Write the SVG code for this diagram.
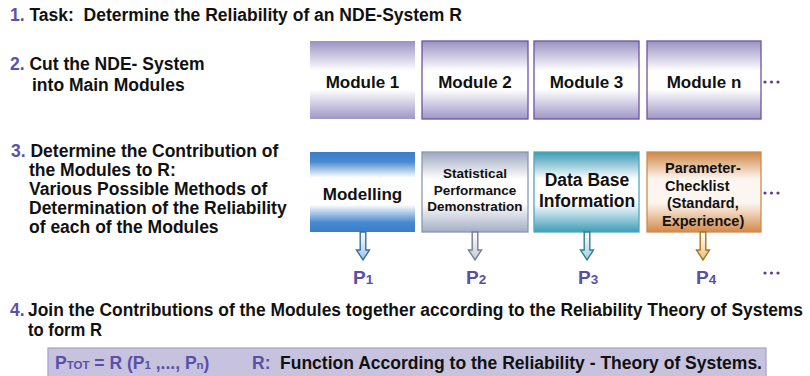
<svg xmlns="http://www.w3.org/2000/svg" width="810" height="376" viewBox="0 0 810 376">
  <style>
    text { font-family: "Liberation Sans", Arial, sans-serif; font-weight: bold; fill: #111; }
    .num { fill: #5a52a6; }
    .step { font-size: 17.5px; }
    .mod { font-size: 17px; text-anchor: middle; }
    .small { font-size: 13.5px; text-anchor: middle; }
    .param { font-size: 14.5px; }
    .plab { font-size: 19px; fill: #5a50a8; }
    .psub { font-size: 13.5px; fill: #5a50a8; }
    .dot { fill: #5b3d92; }
    .blue { fill: #5a50a8; }
    .sub { font-size: 11.5px; }
  </style>
  <defs>
    <linearGradient id="gPurple" x1="0" y1="0" x2="0" y2="1">
      <stop offset="0" stop-color="#9a92c2"/>
      <stop offset="0.38" stop-color="#ffffff"/>
      <stop offset="0.62" stop-color="#ffffff"/>
      <stop offset="1" stop-color="#9f97c6"/>
    </linearGradient>
    <linearGradient id="gBlue" x1="0" y1="0" x2="0" y2="1">
      <stop offset="0" stop-color="#3a7dc7"/>
      <stop offset="0.12" stop-color="#4889cf"/>
      <stop offset="0.32" stop-color="#ffffff"/>
      <stop offset="0.66" stop-color="#ffffff"/>
      <stop offset="0.88" stop-color="#4889cf"/>
      <stop offset="1" stop-color="#3a7dc7"/>
    </linearGradient>
    <linearGradient id="gGray" x1="0" y1="0" x2="0" y2="1">
      <stop offset="0" stop-color="#9ea8c0"/>
      <stop offset="0.34" stop-color="#ffffff"/>
      <stop offset="0.64" stop-color="#ffffff"/>
      <stop offset="1" stop-color="#a3adc4"/>
    </linearGradient>
    <linearGradient id="gTeal" x1="0" y1="0" x2="0" y2="1">
      <stop offset="0" stop-color="#3a9ab6"/>
      <stop offset="0.34" stop-color="#ffffff"/>
      <stop offset="0.64" stop-color="#ffffff"/>
      <stop offset="1" stop-color="#3d9db8"/>
    </linearGradient>
    <linearGradient id="gOrange" x1="0" y1="0" x2="0" y2="1">
      <stop offset="0" stop-color="#d08747"/>
      <stop offset="0.34" stop-color="#fdf6f0"/>
      <stop offset="0.64" stop-color="#fdf6f0"/>
      <stop offset="1" stop-color="#d28a4a"/>
    </linearGradient>
    <linearGradient id="aBlue" x1="0" y1="0" x2="0" y2="1">
      <stop offset="0" stop-color="#ffffff"/>
      <stop offset="1" stop-color="#9cc3e6"/>
    </linearGradient>
    <linearGradient id="aGray" x1="0" y1="0" x2="0" y2="1">
      <stop offset="0" stop-color="#ffffff"/>
      <stop offset="1" stop-color="#c4cad6"/>
    </linearGradient>
    <linearGradient id="aTeal" x1="0" y1="0" x2="0" y2="1">
      <stop offset="0" stop-color="#ffffff"/>
      <stop offset="1" stop-color="#9fd0dc"/>
    </linearGradient>
    <linearGradient id="aOrange" x1="0" y1="0" x2="0" y2="1">
      <stop offset="0" stop-color="#ffffff"/>
      <stop offset="1" stop-color="#e8c27c"/>
    </linearGradient>
    <!-- hollow down arrow, tip at (0,28) -->
    <path id="arrow" d="M-2.8,0 V18 H-6.5 L0,28 L6.5,18 H2.8 V0 Z" stroke-width="1.4" stroke-linejoin="miter"/>
    <g id="dots">
      <circle cx="0" cy="0" r="1.6"/>
      <circle cx="6.5" cy="0" r="1.6"/>
      <circle cx="13" cy="0" r="1.6"/>
    </g>
  </defs>

  <!-- step 1 -->
  <g id="step1">
    <text class="step" x="10" y="21" xml:space="preserve"><tspan class="num">1.</tspan> Task:  Determine the Reliability of an NDE-System R</text>
  </g>

  <!-- step 2 -->
  <g id="step2">
    <text class="step" x="10" y="70"><tspan class="num">2.</tspan> Cut the NDE- System</text>
    <text class="step" x="32" y="91">into Main Modules</text>
  </g>

  <!-- main modules -->
  <g id="module1">
    <rect x="310" y="41" width="105" height="78" fill="url(#gPurple)"/>
    <text class="mod" x="362.5" y="88">Module 1</text>
  </g>
  <g id="module2">
    <rect x="422" y="41" width="106" height="78" fill="url(#gPurple)" stroke="#6d559e" stroke-width="1.3"/>
    <text class="mod" x="475" y="88">Module 2</text>
  </g>
  <g id="module3">
    <rect x="534" y="41" width="105" height="78" fill="url(#gPurple)" stroke="#6d559e" stroke-width="1.3"/>
    <text class="mod" x="586.5" y="88">Module 3</text>
  </g>
  <g id="moduleN">
    <rect x="647" y="41" width="114" height="78" fill="url(#gPurple)" stroke="#6d559e" stroke-width="1.3"/>
    <text class="mod" x="704" y="88">Module n</text>
  </g>
  <use href="#dots" class="dot" x="765" y="82"/>

  <!-- step 3 -->
  <g id="step3">
    <text class="step" x="11" y="157"><tspan class="num">3.</tspan> Determine the Contribution of</text>
    <text class="step" x="29" y="176">the Modules to R:</text>
    <text class="step" x="29" y="195">Various Possible Methods of</text>
    <text class="step" x="29" y="214">Determination of the Reliability</text>
    <text class="step" x="29" y="233">of each of the Modules</text>
  </g>

  <!-- methods -->
  <g id="modelling">
    <rect x="310" y="152" width="105" height="80" fill="url(#gBlue)"/>
    <text class="mod" x="362.5" y="200">Modelling</text>
  </g>
  <g id="statistical">
    <rect x="422" y="152" width="106" height="80" fill="url(#gGray)" stroke="#8d97ae" stroke-width="1.3"/>
    <text class="small" x="475" y="178">Statistical</text>
    <text class="small" x="475" y="194.5">Performance</text>
    <text class="small" x="475" y="211">Demonstration</text>
  </g>
  <g id="database">
    <rect x="534" y="152" width="105" height="80" fill="url(#gTeal)" stroke="#4fa6bc" stroke-width="1.3"/>
    <text class="mod" x="587" y="186" style="font-size:17.5px">Data Base</text>
    <text class="mod" x="587" y="207" style="font-size:17.5px">Information</text>
  </g>
  <g id="checklist">
    <rect x="647" y="152" width="114" height="80" fill="url(#gOrange)" stroke="#cf8b4d" stroke-width="1.3"/>
    <text class="param" x="665" y="173">Parameter-</text>
    <text class="param" x="665" y="190.5">Checklist</text>
    <text class="param" x="667" y="208">(Standard,</text>
    <text class="param" x="662" y="226">Experience)</text>
  </g>
  <use href="#dots" class="dot" x="765" y="193"/>

  <!-- connectors: method to contribution -->
  <g id="connectors">
    <use href="#arrow" x="363" y="232" fill="url(#aBlue)" stroke="#3b6d9c"/>
    <use href="#arrow" x="475" y="232" fill="url(#aGray)" stroke="#767f93"/>
    <use href="#arrow" x="587" y="232" fill="url(#aTeal)" stroke="#367f90"/>
    <use href="#arrow" x="703" y="232" fill="url(#aOrange)" stroke="#a4761f"/>
  </g>

  <!-- contributions -->
  <g id="p1"><text class="plab" x="353" y="284">P<tspan class="psub">1</tspan></text></g>
  <g id="p2"><text class="plab" x="466" y="284">P<tspan class="psub">2</tspan></text></g>
  <g id="p3"><text class="plab" x="578" y="284">P<tspan class="psub">3</tspan></text></g>
  <g id="p4"><text class="plab" x="696" y="284">P<tspan class="psub">4</tspan></text></g>
  <use href="#dots" class="dot" x="765" y="273"/>

  <!-- step 4 -->
  <g id="step4">
    <text x="10" y="316" style="font-size:17.5px"><tspan class="num">4.</tspan></text>
    <text x="28" y="316" style="font-size:17.5px" textLength="775" lengthAdjust="spacingAndGlyphs">Join the Contributions of the Modules together according to the Reliability Theory of Systems</text>
    <text x="28" y="336" style="font-size:17.5px" textLength="74" lengthAdjust="spacingAndGlyphs">to form R</text>
  </g>

  <!-- result formula -->
  <g id="formula">
    <rect x="48" y="348" width="718" height="32" fill="#c7c3df" stroke="#a9a5cd" stroke-width="1.3"/>
    <text class="blue" x="55" y="369" style="font-size:17.5px">P<tspan class="sub">TOT</tspan> = R (P<tspan class="sub">1</tspan> ,..., P<tspan class="sub">n</tspan>)</text>
    <text class="blue" x="252" y="369" style="font-size:17.5px">R:</text>
    <text x="280" y="369" style="font-size:17.5px" textLength="482" lengthAdjust="spacingAndGlyphs">Function According to the Reliability - Theory of Systems.</text>
  </g>
</svg>
